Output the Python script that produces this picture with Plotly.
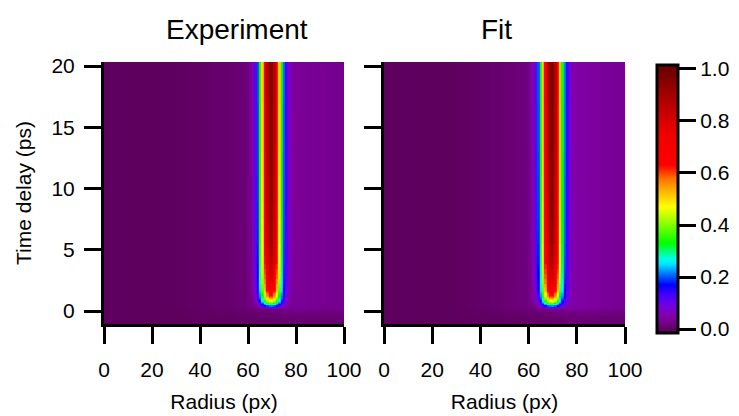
import numpy as np
import plotly.graph_objects as go

# ---------------- data ----------------
radius = list(range(0, 101))                      # px, 1-px columns

# ring profile (relative) for radii 58..81
ring_radius = list(range(58, 82))
ring_profile = [0.0, 0.002, 0.007, 0.018, 0.044, 0.096, 0.186, 0.325, 0.51, 0.71,
                0.88, 0.986, 0.986, 0.88, 0.71, 0.51, 0.325, 0.186, 0.096, 0.044,
                0.018, 0.007, 0.002, 0.0]

# time rows (ps)
time_ps = [-1.0, -0.6, -0.3, -0.1, 0.0, 0.1, 0.2, 0.3, 0.4, 0.5, 0.6, 0.7, 0.8, 0.9,
           1.0, 1.1, 1.2, 1.3, 1.4, 1.5, 1.6, 1.7, 1.8, 1.9, 2.0, 2.4, 2.8, 3.2, 3.6,
           4.0, 5.0, 6.0, 7.0, 8.0, 10.0, 12.0, 14.0, 16.0, 18.0, 20.2]
exp_amplitude = [0, 0, 0, 0, 0, 0.0, 0.03, 0.10, 0.19, 0.27, 0.34, 0.40, 0.45, 0.49,
                 0.53, 0.56, 0.59, 0.61, 0.63, 0.65, 0.67, 0.69, 0.70, 0.71, 0.72, 0.76,
                 0.79, 0.81, 0.83, 0.85, 0.87, 0.89, 0.90, 0.91, 0.92, 0.93, 0.94, 0.94,
                 0.95, 0.95]
fit_amplitude = [0, 0, 0, 0, 0, 0.0, 0.03, 0.10, 0.19, 0.27, 0.34, 0.40, 0.45, 0.49,
                 0.53, 0.56, 0.59, 0.61, 0.63, 0.65, 0.67, 0.69, 0.70, 0.71, 0.72, 0.76,
                 0.79, 0.81, 0.83, 0.85, 0.87, 0.89, 0.90, 0.91, 0.92, 0.93, 0.94, 0.94,
                 0.95, 0.95]
bg_time_factor = [0.3, 0.35, 0.5, 0.6, 0.7, 0.8, 0.9, 0.95] + [1.0] * 32

# background level per 5-px radius block (index r // 5)
exp_background = [0, 0, 0, 0, 0, 0, 0.002, 0.004, 0.006, 0.008, 0.010, 0.013, 0.017,
                  0.022, 0.028, 0.034, 0.036, 0.034, 0.032, 0.030, 0.030]
fit_background = [0, 0, 0, 0, 0, 0, 0.002, 0.004, 0.007, 0.010, 0.013, 0.017, 0.021,
                  0.026, 0.033, 0.042, 0.045, 0.042, 0.038, 0.035, 0.035]

x_ticks = [0, 20, 40, 60, 80, 100]
y_ticks = [0, 5, 10, 15, 20]
cbar_ticks = [0.0, 0.2, 0.4, 0.6, 0.8, 1.0]

# colour table (value -> colour)
color_stops = [(0.00, "rgb(94,0,94)"), (0.02, "rgb(112,0,128)"), (0.05, "rgb(130,0,170)"),
               (0.09, "rgb(115,0,225)"), (0.13, "rgb(70,0,255)"), (0.17, "rgb(0,0,255)"),
               (0.21, "rgb(0,110,255)"), (0.25, "rgb(0,230,255)"), (0.27, "rgb(0,255,230)"),
               (0.33, "rgb(0,255,0)"), (0.40, "rgb(130,255,0)"), (0.47, "rgb(255,255,0)"),
               (0.53, "rgb(255,180,0)"), (0.58, "rgb(255,110,0)"), (0.63, "rgb(255,0,0)"),
               (0.75, "rgb(240,0,0)"), (0.85, "rgb(190,0,0)"), (1.00, "rgb(110,0,0)")]

# ---------------- build matrices ----------------
def build(amplitude, background):
    ring = np.zeros(len(radius))
    for r, v in zip(ring_radius, ring_profile):
        ring[r] = v
    bg = np.array([background[r // 5] for r in radius])
    z = np.outer(np.array(amplitude), ring) + np.outer(np.array(bg_time_factor), bg)
    return z

z_exp = build(exp_amplitude, exp_background)
z_fit = build(fit_amplitude, fit_background)

cmin, cmax = -0.015, 1.015
colorscale = [[(v - cmin) / (cmax - cmin), c] for v, c in color_stops]
colorscale = [[0.0, color_stops[0][1]]] + colorscale + [[1.0, color_stops[-1][1]]]

W, H = 739, 416
FONT = "Liberation Sans"
FS = 21

fig = go.Figure()
fig.add_trace(go.Heatmap(x=radius, y=time_ps, z=z_exp, coloraxis="coloraxis",
                         xaxis="x", yaxis="y", hoverinfo="skip"))
fig.add_trace(go.Heatmap(x=radius, y=time_ps, z=z_fit, coloraxis="coloraxis",
                         xaxis="x2", yaxis="y2", hoverinfo="skip"))

axis_common = dict(showline=True, linecolor="black", linewidth=3, ticks="outside",
                   ticklen=17, tickwidth=3, tickcolor="black", showgrid=False,
                   zeroline=False, automargin=False,
                   tickfont=dict(family=FONT, size=FS, color="black"))

ydom = [1 - 324 / H, 1 - 62 / H]
fig.update_layout(
    width=W, height=H, margin=dict(l=0, r=0, t=0, b=0, pad=0, autoexpand=False),
    paper_bgcolor="white", plot_bgcolor="white",
    font=dict(family=FONT, size=FS, color="black"),
    xaxis=dict(domain=[104 / W, 344 / W], range=[0, 100], tickvals=x_ticks, anchor="y",
               ticklabelstandoff=8,
               title=dict(text="Radius (px)", font=dict(family=FONT, size=FS)),
               **axis_common),
    yaxis=dict(domain=ydom, range=[-1.06, 20.33], tickvals=y_ticks, anchor="x",
               ticklabelstandoff=5,
               title=dict(text="Time delay (ps)", font=dict(family=FONT, size=FS)),
               **axis_common),
    xaxis2=dict(domain=[384 / W, 625 / W], range=[0, 100], tickvals=x_ticks, anchor="y2",
                ticklabelstandoff=8,
                title=dict(text="Radius (px)", font=dict(family=FONT, size=FS)),
                **axis_common),
    yaxis2=dict(domain=ydom, range=[-1.06, 20.33], tickvals=y_ticks, anchor="x2",
                showticklabels=False, **axis_common),
    coloraxis=dict(
        colorscale=colorscale, cmin=cmin, cmax=cmax,
        colorbar=dict(x=657 / W, xanchor="left", xpad=0, thickness=21,
                      thicknessmode="pixels", len=268, lenmode="pixels",
                      y=1 - 199 / H, yanchor="middle", ypad=0,
                      outlinewidth=3, outlinecolor="black",
                      ticks="outside", ticklen=17, tickwidth=3, tickcolor="black",
                      tickvals=cbar_ticks, ticktext=[f"{v:.1f}" for v in cbar_ticks],
                      tickfont=dict(family=FONT, size=FS, color="black")),
    ),
    annotations=[
        dict(text="Experiment", x=237 / W, y=1 - 30 / H, xref="paper", yref="paper",
             xanchor="center", yanchor="middle",
             showarrow=False, font=dict(family=FONT, size=28, color="black")),
        dict(text="Fit", x=496 / W, y=1 - 30 / H, xref="paper", yref="paper",
             xanchor="center", yanchor="middle",
             showarrow=False, font=dict(family=FONT, size=28, color="black")),
    ],
)

fig.write_html("out.html")
